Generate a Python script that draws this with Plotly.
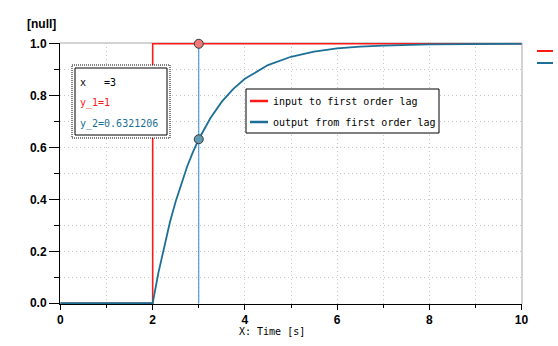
import plotly.graph_objects as go

# ---- data ----
t_in = [0, 2, 2, 10]
y_in = [0, 0, 1, 1]

t_out = [0, 2.0, 2.125, 2.25, 2.375, 2.5, 2.625, 2.75, 2.875, 3.0, 3.25, 3.5, 3.75,
         4.0, 4.5, 5.0, 5.5, 6.0, 6.5, 7.0, 8.0, 9.0, 10.0]
y_out = [0, 0.0, 0.118, 0.221, 0.313, 0.393, 0.465, 0.528, 0.583, 0.632, 0.713, 0.777, 0.826,
         0.865, 0.918, 0.950, 0.970, 0.982, 0.989, 0.993, 0.998, 0.999, 1.0]

cursor_x = 3
cursor_y1 = 1
cursor_y2 = 0.6321206

series_names = ["input to first order lag", "output from first order lag"]
x_title = "X: Time [s]"
y_title = "[null]"

RED = "#ff1a1a"
TEAL = "#1c6f96"
CURSOR = "#2f86d6"
GRID = "#c8c8c8"

W, H = 558, 346
L, R, T, B = 60, 36, 43, 42
PW, PH = W - L - R, H - T - B

def px(xp):
    return (xp - L) / PW

def py(yp):
    return (H - B - yp) / PH

fig = go.Figure()

fig.add_trace(go.Scatter(x=[cursor_x, cursor_x], y=[0, 1], mode="lines",
                         line=dict(color=CURSOR, width=1), showlegend=False, hoverinfo="skip"))
fig.add_trace(go.Scatter(x=t_in, y=y_in, mode="lines", name=series_names[0],
                         line=dict(color=RED, width=1.6), showlegend=False))
fig.add_trace(go.Scatter(x=t_out, y=y_out, mode="lines", name=series_names[1],
                         line=dict(color=TEAL, width=1.8), showlegend=False))
fig.add_trace(go.Scatter(x=[cursor_x, cursor_x], y=[cursor_y1, cursor_y2], mode="markers",
                         marker=dict(size=9, color=["#f07a7a", "#5f9bb3"],
                                     line=dict(color="#3a3a3a", width=1)),
                         cliponaxis=False, showlegend=False, hoverinfo="skip"))

mono = "DejaVu Sans Mono"
tickfont = dict(family="Liberation Sans", size=12, color="black", weight="bold")
dotdash = "1px,3px"

fig.update_layout(
    width=W, height=H,
    margin=dict(l=L, r=R, t=T, b=B),
    paper_bgcolor="white", plot_bgcolor="white",
    showlegend=False,
    xaxis=dict(range=[-0.01, 10.01], tickvals=[0, 2, 4, 6, 8, 10], ticktext=["0", "2", "4", "6", "8", "10"],
               showline=True, linecolor="black", linewidth=1,
               ticks="outside", ticklen=5, tickcolor="black",
               showgrid=True, gridcolor=GRID, griddash=dotdash, gridwidth=1,
               minor=dict(dtick=1, tick0=0, showgrid=True, gridcolor=GRID, griddash=dotdash,
                          ticks="outside", ticklen=3, tickcolor="black"),
               zeroline=False, tickfont=tickfont),
    yaxis=dict(range=[-0.003, 1.003], tickvals=[0, 0.2, 0.4, 0.6, 0.8, 1.0],
               ticktext=["0.0", "0.2", "0.4", "0.6", "0.8", "1.0"],
               showline=True, linecolor="black", linewidth=1,
               ticks="outside", ticklen=10, tickcolor="black",
               showgrid=True, gridcolor=GRID, griddash=dotdash, gridwidth=1,
               minor=dict(dtick=0.1, tick0=0, showgrid=True, gridcolor=GRID, griddash=dotdash,
                          ticks="outside", ticklen=5, tickcolor="black"),
               zeroline=False, tickfont=tickfont),
)

shapes = [
    # top and right frame lines (gray)
    dict(type="line", xref="paper", yref="paper", x0=0, x1=1, y0=1, y1=1,
         line=dict(color="#c4c4c4", width=1.5), layer="below"),
    dict(type="line", xref="paper", yref="paper", x0=1, x1=1, y0=0, y1=1,
         line=dict(color="#c4c4c4", width=1.5), layer="below"),
    # cursor info box
    dict(type="rect", xref="paper", yref="paper", x0=px(72), x1=px(170), y0=py(138), y1=py(65),
         line=dict(color="black", width=1, dash="1px,1px"), fillcolor="white", layer="above"),
    dict(type="rect", xref="paper", yref="paper", x0=px(75), x1=px(167), y0=py(135), y1=py(68),
         line=dict(color="black", width=1), fillcolor="white", layer="above"),
    # legend box
    dict(type="rect", xref="paper", yref="paper", x0=px(246), x1=px(439), y0=py(133), y1=py(89),
         line=dict(color="black", width=1), fillcolor="white", layer="above"),
    dict(type="line", xref="paper", yref="paper", x0=px(250), x1=px(268), y0=py(101), y1=py(101),
         line=dict(color=RED, width=2.5), layer="above"),
    dict(type="line", xref="paper", yref="paper", x0=px(250), x1=px(268), y0=py(122), y1=py(122),
         line=dict(color=TEAL, width=2.5), layer="above"),
    # right-side colour keys
    dict(type="line", xref="paper", yref="paper", x0=px(537), x1=px(553), y0=py(51), y1=py(51),
         line=dict(color=RED, width=2)),
    dict(type="line", xref="paper", yref="paper", x0=px(537), x1=px(553), y0=py(63), y1=py(63),
         line=dict(color=TEAL, width=2)),
]
fig.update_layout(shapes=shapes)

def txt(s, xp, yp, color="black", anchor="left", family=mono, size=10, weight="normal"):
    return dict(text=s, xref="paper", yref="paper", x=px(xp), y=py(yp), xanchor=anchor,
                yanchor="middle", showarrow=False,
                font=dict(family=family, size=size, color=color, weight=weight))

ann = [
    txt(y_title, 58, 24, anchor="right", family="Liberation Sans", size=12, weight="bold"),
    txt(x_title, 272, 331, anchor="center"),
    txt(f"x   ={cursor_x}", 78, 82),
    txt(f"y_1={cursor_y1}", 78, 103, color=RED),
    txt(f"y_2={cursor_y2}", 78, 124, color=TEAL),
    txt(series_names[0], 271, 101),
    txt(series_names[1], 271, 122),
]
fig.update_layout(annotations=ann)

fig.write_html("out.html")
